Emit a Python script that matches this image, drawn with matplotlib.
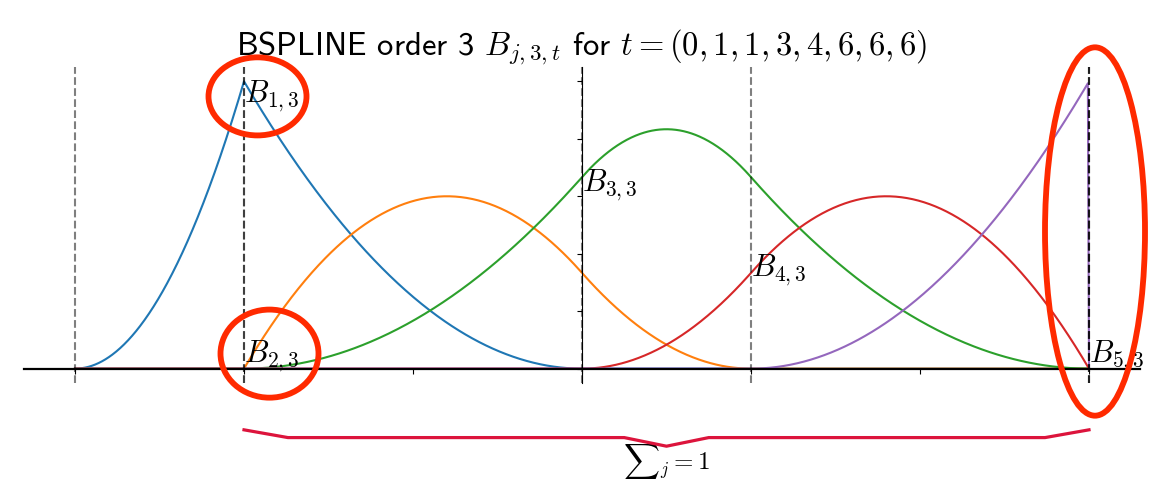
import numpy as np
import matplotlib
matplotlib.use("Agg")
import matplotlib.pyplot as plt
from matplotlib.patches import Ellipse

plt.rcParams['mathtext.fontset'] = 'cm'
plt.rcParams['axes.formatter.use_mathtext'] = True

# ---- data ----
knots = [0, 1, 1, 3, 4, 6, 6, 6]
order = 3
labels = [r'$B_{1,3}$', r'$B_{2,3}$', r'$B_{3,3}$', r'$B_{4,3}$', r'$B_{5,3}$']
colors = ['#1f77b4', '#ff7f0e', '#2ca02c', '#d62728', '#9467bd']


def basis(j, k, t, x):
    if k == 1:
        return ((t[j] <= x) & (x < t[j + 1])).astype(float)
    out = np.zeros_like(x)
    d1 = t[j + k - 1] - t[j]
    if d1 > 0:
        out += (x - t[j]) / d1 * basis(j, k - 1, t, x)
    d2 = t[j + k] - t[j + 1]
    if d2 > 0:
        out += (t[j + k] - x) / d2 * basis(j + 1, k - 1, t, x)
    return out


uk = sorted(set(knots))
x = np.unique(np.concatenate([np.linspace(a, b, 300) for a, b in zip(uk[:-1], uk[1:])]))
n_basis = len(knots) - order

fig = plt.figure(figsize=(11.66, 4.86), dpi=100)
ax = fig.add_axes([24.3 / 1166, 103 / 486, (1139.7 - 24.3) / 1166, 316 / 486])

for j in range(n_basis):
    ax.plot(x, basis(j, order, knots, x), color=colors[j], lw=1.5, zorder=2)

for k in knots:
    ax.axvline(k, color='k', alpha=0.5, ls='--', lw=1.5, zorder=3)

ax.set_xlim(-0.3, 6.3)
ax.set_ylim(-0.05, 1.05)
ax.spines['left'].set_position(('data', 3))
ax.spines['bottom'].set_position(('data', 0))
ax.spines['right'].set_visible(False)
ax.spines['top'].set_visible(False)
ax.spines['bottom'].set_linewidth(1.6)
ax.spines['left'].set_linewidth(0.8)
ax.set_xticks(range(0, 7))
ax.set_yticks(np.arange(0, 1.01, 0.2))
ax.set_xticklabels([])
ax.set_yticklabels([])
ax.tick_params(length=3.5, width=0.8)

# basis labels at knots
label_x = [1, 1, 3, 4, 6]
label_y = [0.927, 0.021, 0.617, 0.321, 0.021]
for lx, ly, lab in zip(label_x, label_y, labels):
    ax.text(lx, ly, lab, fontsize=22, ha='left', va='baseline', zorder=5)

knot_str = ','.join(str(k) for k in knots)
ax.set_title('BSPLINE order %d $B_{j,%d,t}$ for $t=(%s)$' % (order, order, knot_str),
             fontsize=23.5, family='cmss10', pad=4)

# red highlight ellipses (pixel -> data)
def px2d(px, py):
    return ((px - 75) / 169.0, (369 - py) / 287.0)

ring = '#ff2a00'
for (cx, cy, w, h) in [(257.5, 97, 98, 78), (269.5, 354, 98, 88), (1095, 232, 100, 368)]:
    c = px2d(cx, cy)
    e = Ellipse(c, w / 169.0, h / 287.0, fill=False, ec=ring, lw=4.2,
                clip_on=False, zorder=6)
    ax.add_patch(e)

# brace below axis
bx = [1, 1.26, 3.25, 3.5, 3.75, 5.74, 6]
by = [-0.213, -0.240, -0.240, -0.270, -0.240, -0.240, -0.213]
ax.plot(bx, by, color='#dc143c', lw=2.3, clip_on=False, zorder=6)
ax.text(3.5, -0.352, r'${\sum}_j = 1$', fontsize=18, ha='center', va='baseline')

fig.savefig('out.png', dpi=100)
